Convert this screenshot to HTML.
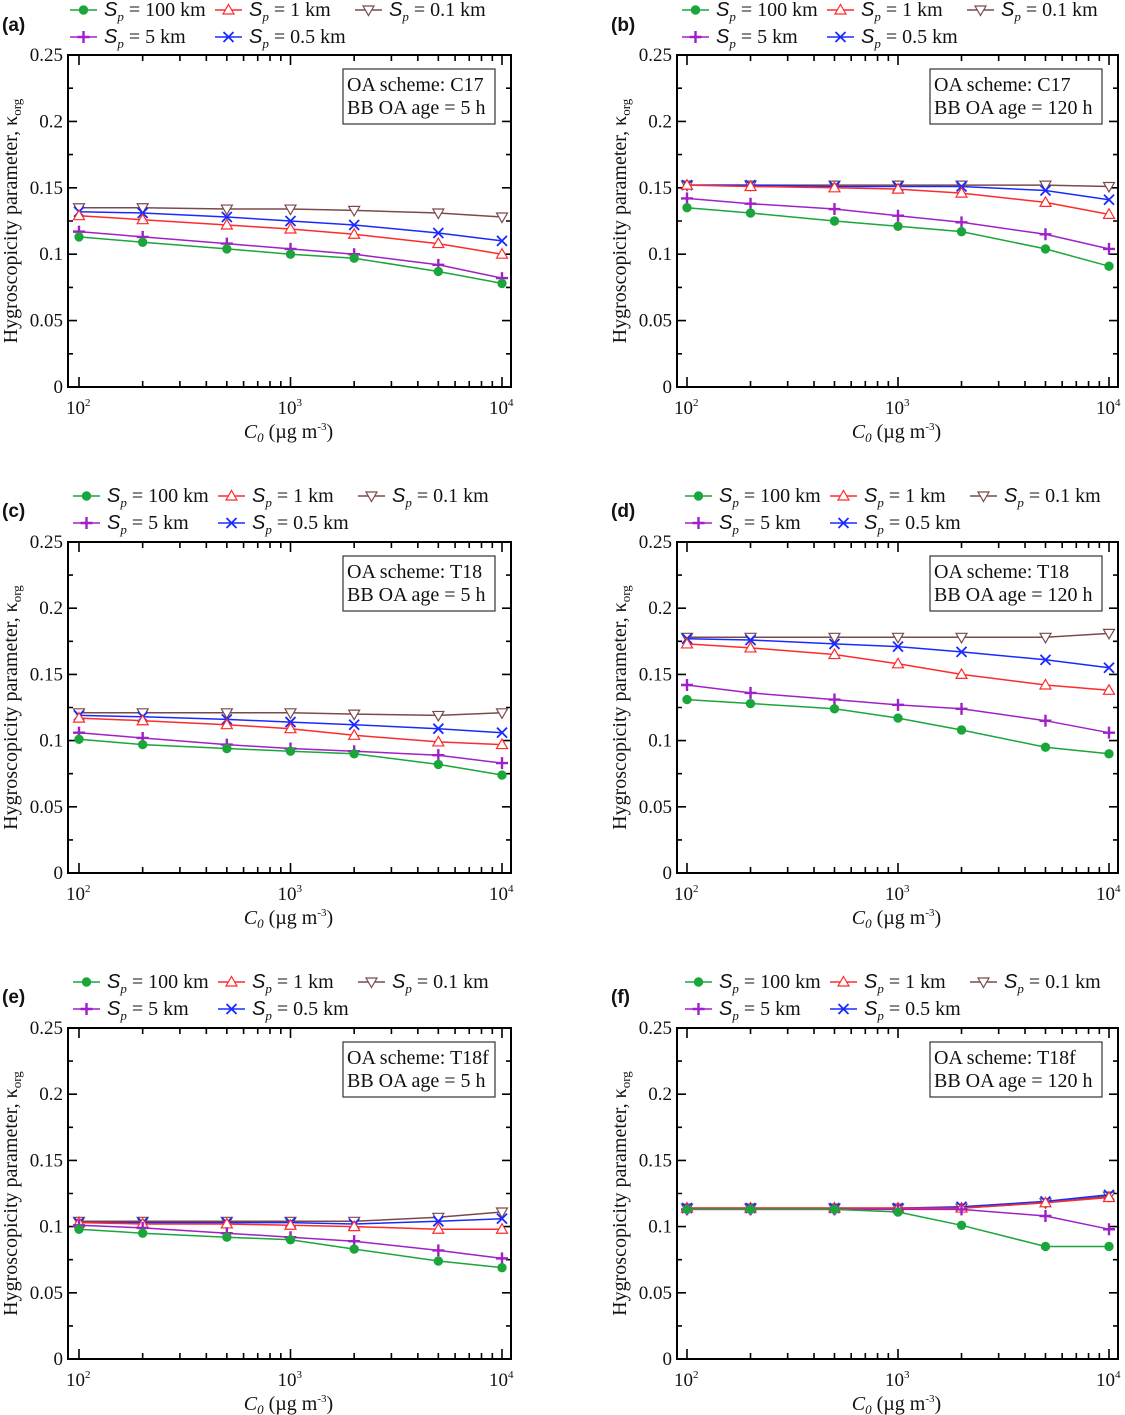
<!DOCTYPE html>
<html><head><meta charset="utf-8">
<style>
html,body{margin:0;padding:0;background:#fff;}
svg{display:block;}
text{font-family:"Liberation Serif","DejaVu Serif",serif;fill:#111;}
.lbl{font-family:"Liberation Sans","DejaVu Sans",sans-serif;font-weight:bold;}
</style></head>
<body>
<svg id="fig" width="1125" height="1415" viewBox="0 0 1125 1415" xmlns="http://www.w3.org/2000/svg"></svg>
<script>
const xValues=[100,200,500,1000,2000,5000,10000];
const seriesNames=["100 km","5 km","1 km","0.5 km","0.1 km"];
const yTicks=[0,0.05,0.1,0.15,0.2,0.25];
const yTickLabels=["0","0.05","0.1","0.15","0.2","0.25"];
const xTickExp=[2,3,4];
const panelLetters=["(a)","(b)","(c)","(d)","(e)","(f)"];
const panelSchemes=["C17","C17","T18","T18","T18f","T18f"];
const panelAges=["5 h","120 h","5 h","120 h","5 h","120 h"];
const aGreen=[0.113,0.109,0.104,0.100,0.097,0.087,0.078];
const aPurple=[0.117,0.113,0.108,0.104,0.100,0.092,0.082];
const aRed=[0.129,0.126,0.122,0.119,0.115,0.108,0.100];
const aBlue=[0.132,0.131,0.128,0.125,0.122,0.116,0.110];
const aBrown=[0.135,0.135,0.134,0.134,0.133,0.131,0.128];
const bGreen=[0.135,0.131,0.125,0.121,0.117,0.104,0.091];
const bPurple=[0.142,0.138,0.134,0.129,0.124,0.115,0.104];
const bRed=[0.152,0.151,0.150,0.149,0.146,0.139,0.130];
const bBlue=[0.152,0.152,0.151,0.151,0.151,0.148,0.141];
const bBrown=[0.152,0.152,0.152,0.152,0.152,0.152,0.151];
const cGreen=[0.101,0.097,0.094,0.092,0.090,0.082,0.074];
const cPurple=[0.106,0.102,0.097,0.094,0.092,0.089,0.083];
const cRed=[0.117,0.115,0.112,0.109,0.104,0.099,0.097];
const cBlue=[0.119,0.118,0.116,0.114,0.112,0.109,0.106];
const cBrown=[0.121,0.121,0.121,0.121,0.120,0.119,0.121];
const dGreen=[0.131,0.128,0.124,0.117,0.108,0.095,0.090];
const dPurple=[0.142,0.136,0.131,0.127,0.124,0.115,0.106];
const dRed=[0.173,0.170,0.165,0.158,0.150,0.142,0.138];
const dBlue=[0.177,0.176,0.173,0.171,0.167,0.161,0.155];
const dBrown=[0.178,0.178,0.178,0.178,0.178,0.178,0.181];
const eGreen=[0.098,0.095,0.092,0.090,0.083,0.074,0.069];
const ePurple=[0.101,0.099,0.095,0.092,0.089,0.082,0.076];
const eRed=[0.103,0.102,0.102,0.101,0.100,0.098,0.098];
const eBlue=[0.103,0.103,0.103,0.103,0.102,0.104,0.106];
const eBrown=[0.104,0.104,0.104,0.104,0.104,0.107,0.111];
const fGreen=[0.113,0.113,0.113,0.111,0.101,0.085,0.085];
const fPurple=[0.113,0.113,0.113,0.113,0.113,0.108,0.098];
const fRed=[0.114,0.114,0.114,0.114,0.114,0.118,0.122];
const fBlue=[0.114,0.114,0.114,0.114,0.115,0.119,0.124];
const fBrown=[0.114,0.114,0.114,0.114,0.114,0.118,0.123];
const panelData=[
 [aGreen,aPurple,aRed,aBlue,aBrown],
 [bGreen,bPurple,bRed,bBlue,bBrown],
 [cGreen,cPurple,cRed,cBlue,cBrown],
 [dGreen,dPurple,dRed,dBlue,dBrown],
 [eGreen,ePurple,eRed,eBlue,eBrown],
 [fGreen,fPurple,fRed,fBlue,fBrown]];

const NS="http://www.w3.org/2000/svg";
const svg=document.getElementById('fig');
const colors=["#1aa63a","#a020c8","#ff2a2a","#1a2aff","#7a4a4a"];
const markerKinds=["circle","plus","tri","x","dtri"];
const seriesKeys=["sp-100km","sp-5km","sp-1km","sp-0-5km","sp-0-1km"];
function mk(tag,attrs,parent){const e=document.createElementNS(NS,tag);for(const k in attrs)e.setAttribute(k,attrs[k]);(parent||svg).appendChild(e);return e;}
function marker(g,kind,x,y,c){
 let e;
 if(kind==="circle"){e=mk('circle',{cx:x,cy:y,r:4.2,fill:c,stroke:c},g);}
 else if(kind==="plus"){e=mk('path',{d:`M${x-6} ${y}H${x+6}M${x} ${y-6}V${y+6}`,stroke:c,'stroke-width':2.4,fill:'none'},g);}
 else if(kind==="x"){e=mk('path',{d:`M${x-5} ${y-5}L${x+5} ${y+5}M${x-5} ${y+5}L${x+5} ${y-5}`,stroke:c,'stroke-width':1.8,fill:'none'},g);}
 else if(kind==="tri"){e=mk('path',{d:`M${x} ${y-5.5}L${x+5.5} ${y+4}L${x-5.5} ${y+4}Z`,stroke:c,'stroke-width':1.2,fill:'#fff'},g);}
 else {e=mk('path',{d:`M${x} ${y+5.5}L${x+5.5} ${y-4}L${x-5.5} ${y-4}Z`,stroke:c,'stroke-width':1.2,fill:'#fff'},g);}
 return e;
}
const cols=[{fL:68,fR:511,a2:79,a4:502,off:0},{fL:677,fR:1118,a2:687,a4:1109,off:609}];
const rows=[{t:55,b:387,off:0},{t:542,b:873,off:486},{t:1028,b:1359,off:972}];

for(let p=0;p<6;p++){
 const C=cols[p%2],R=rows[Math.floor(p/2)];
 const g=mk('g',{});
 
 
 const xs=v=>C.a2+(Math.log10(v)-2)/2*(C.a4-C.a2);
 const ys=v=>R.b-v/0.25*(R.b-R.t);
 const pl=mk('text',{x:C.off+2,y:R.off+31,'font-size':19,class:'lbl'},g);pl.textContent=panelLetters[p];
 
 
 const lg=mk('g',{},g);
 
 
 const legPos=[[70,10],[70,37],[215,10],[215,37],[355,10]];
 for(let s=0;s<5;s++){
  const lx=C.off+legPos[s][0]+(p%2?3:0)+(Math.floor(p/2)>0?3:0),ly=R.off+legPos[s][1];
  const it=mk('g',{},lg);
  
  
  mk('line',{x1:lx,y1:ly,x2:lx+27,y2:ly,stroke:colors[s],'stroke-width':1.4},it);
  marker(it,markerKinds[s],lx+13.5,ly,colors[s]);
  const t=mk('text',{x:lx+34,y:ly+6,'font-size':20},it);
  t.innerHTML=`<tspan font-style="italic" font-family="Liberation Sans, sans-serif">S</tspan><tspan font-style="italic" font-size="13" dy="5">p</tspan><tspan dy="-5"> = ${seriesNames[s]}</tspan>`;
 }
 const fr=mk('rect',{x:C.fL,y:R.t,width:C.fR-C.fL,height:R.b-R.t,fill:'none',stroke:'#000','stroke-width':2},g);
 
 
 let d="";
 for(let i=0;i<=10;i++){const v=i*0.025,y=ys(v),L=i%2===0?9:5;d+=`M${C.fL} ${y}h${L}M${C.fR} ${y}h${-L}`;}
 for(let e=2;e<4;e++)for(let m=1;m<10;m++){const x=xs(m*Math.pow(10,e)),L=m===1?10:6;d+=`M${x} ${R.b}v${-L}M${x} ${R.t}v${L}`;}
 {const x=xs(10000);d+=`M${x} ${R.b}v-10M${x} ${R.t}v10`;}
 const tk=mk('path',{d:d,stroke:'#000','stroke-width':1.6,fill:'none'},g);
 
 
 const ya=mk('g',{},g);
 
 
 yTicks.forEach((v,i)=>{const t=mk('text',{x:C.fL-5,y:ys(v)+6,'font-size':19,'text-anchor':'end'},ya);t.textContent=yTickLabels[i];});
 const xa=mk('g',{},g);
 
 
 xTickExp.forEach(e=>{const t=mk('text',{x:xs(Math.pow(10,e))-13,y:R.b+27,'font-size':19},xa);t.innerHTML=`10<tspan font-size="11" dy="-8">${e}</tspan>`;});
 const xt=mk('text',{x:(C.fL+C.fR)/2-1,y:R.b+51,'font-size':20,'text-anchor':'middle'},g);
 xt.innerHTML=`<tspan font-style="italic">C</tspan><tspan font-style="italic" font-size="13" dy="4">0</tspan><tspan dy="-4"> (µg m</tspan><tspan font-size="11" dy="-8">-3</tspan><tspan dy="8">)</tspan>`;
 
 
 const yl=mk('text',{x:0,y:0,'font-size':20,'text-anchor':'middle',transform:`translate(${C.off+17},${(R.t+R.b)/2}) rotate(-90)`},g);
 yl.innerHTML=`Hygroscopicity parameter, κ<tspan font-size="13" dy="4">org</tspan>`;
 
 
 const bw=p%2?172:152;
 const bx=C.fR-16-bw, by=R.t+14;
 const ab=mk('g',{},g);
 
 
 mk('rect',{x:bx,y:by,width:bw,height:55,fill:'#fff',stroke:'#333','stroke-width':1.2},ab);
 const t1=mk('text',{x:bx+4,y:by+22,'font-size':20},ab);t1.textContent="OA scheme: "+panelSchemes[p];
 const t2=mk('text',{x:bx+4,y:by+45,'font-size':20},ab);t2.textContent="BB OA age = "+panelAges[p];
 const order=[4,3,2,1,0];
 order.forEach(s=>{
  const vals=panelData[p][s];
  const sg=mk('g',{},g);
  
  
  const pts=vals.map((v,i)=>xs(xValues[i]).toFixed(1)+','+ys(v).toFixed(1)).join(' ');
  mk('polyline',{points:pts,fill:'none',stroke:colors[s],'stroke-width':1.5},sg);
  vals.forEach((v,i)=>{const m=marker(sg,markerKinds[s],xs(xValues[i]),ys(v),colors[s]);
   
   });
 });
}
</script>
</body></html>
